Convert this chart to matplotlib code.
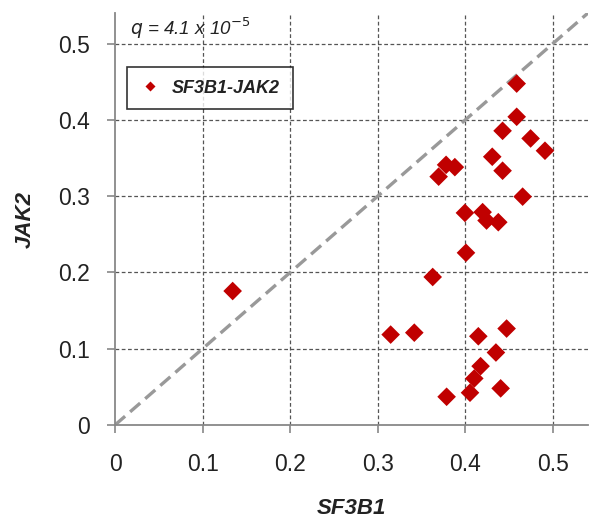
import matplotlib
matplotlib.use("Agg")
import matplotlib.pyplot as plt
from matplotlib.lines import Line2D

plt.rcParams['font.family'] = ['Liberation Sans', 'DejaVu Sans']

# Data: variant allele frequencies
sf3b1 = [0.4586, 0.4586, 0.4425, 0.4745, 0.4909, 0.4307, 0.4425, 0.3780,
         0.3880, 0.3695, 0.4654, 0.3995, 0.4197, 0.4242, 0.4376, 0.4007,
         0.3627, 0.3147, 0.3417, 0.4148, 0.4471, 0.4349, 0.4174, 0.4102,
         0.4053, 0.4403, 0.3786, 0.1343]
jak2 = [0.4475, 0.4040, 0.3856, 0.3756, 0.3595, 0.3516, 0.3333, 0.3410,
        0.3380, 0.3255, 0.2993, 0.2780, 0.2790, 0.2680, 0.2658, 0.2257,
        0.1940, 0.1185, 0.1210, 0.1163, 0.1264, 0.0950, 0.0771, 0.0610,
        0.0423, 0.0480, 0.0370, 0.1756]
ticks = [0, 0.1, 0.2, 0.3, 0.4, 0.5]
tick_labels = ["0", "0.1", "0.2", "0.3", "0.4", "0.5"]
diag = [0, 0.54]
series_name = "SF3B1-JAK2"
q_text = r"$q$ = 4.1 x 10$^{-5}$"

fig = plt.figure(figsize=(5.92, 5.23), dpi=100)
ax = fig.add_axes([0.1943, 0.1874, 0.7989, 0.7877])

ax.set_xlim(0, 0.54)
ax.set_ylim(0, 0.54)

# grid
for t in ticks[1:]:
    ax.axvline(t, color='#555555', lw=0.9, ls=(0, (3, 2)), zorder=1)
    ax.axhline(t, color='#555555', lw=0.9, ls=(0, (3, 2)), zorder=1)

# diagonal
ax.plot(diag, diag, color='#999999', lw=2.4, ls=(0, (4, 2)), zorder=2,
        solid_capstyle='butt')

ax.scatter(sf3b1, jak2, marker='D', s=90, color='#C00000', edgecolors='none',
           zorder=3)

for s in ['top', 'right']:
    ax.spines[s].set_visible(False)
for s in ['left', 'bottom']:
    ax.spines[s].set_color('#888888')
    ax.spines[s].set_linewidth(1.3)

ax.set_xticks(ticks)
ax.set_yticks(ticks)
ax.set_xticklabels(tick_labels)
ax.set_yticklabels(tick_labels)
ax.tick_params(axis='both', direction='out', length=6, width=1.2,
               color='#888888', labelsize=16.5, labelcolor='#222222', pad=14)
ax.tick_params(axis='y', pad=12)

ax.set_xlabel("SF3B1", fontsize=16, fontstyle='italic', fontweight='bold',
              color='#222222', labelpad=16)
ax.set_ylabel("JAK2", fontsize=16, fontstyle='italic', fontweight='bold',
              color='#222222', labelpad=16)

ax.text(0.017, 0.52, q_text, fontsize=13.5, fontstyle='italic',
        color='#222222', va='center', ha='left')

handle = Line2D([], [], marker='D', color='#C00000', ls='none',
                markersize=5, markeredgecolor='none')
leg = ax.legend([handle], [series_name], loc='upper left',
                bbox_to_anchor=(0.025, 0.869), frameon=True, fancybox=False,
                edgecolor='black', handlelength=1.2, handletextpad=0.6,
                borderpad=0.7, borderaxespad=0,
                prop={'size': 13, 'style': 'italic', 'weight': 'bold'})
leg.get_frame().set_linewidth(1.2)
leg.get_texts()[0].set_color('#222222')

fig.savefig("out.png", dpi=100)
